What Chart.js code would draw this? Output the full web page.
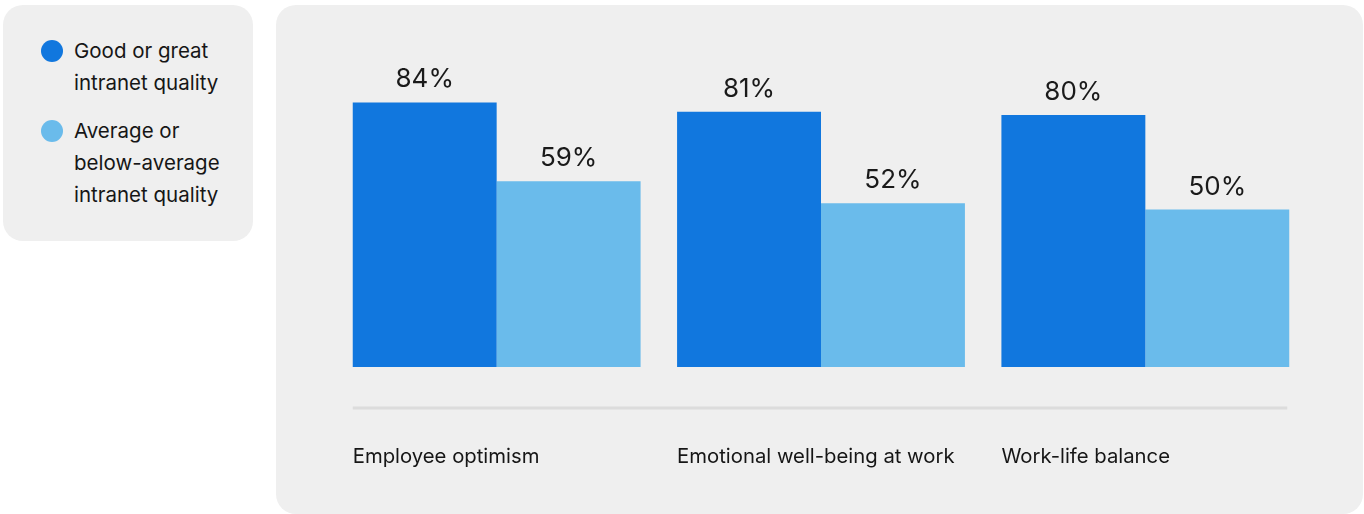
<!DOCTYPE html>
<html>
<head>
<meta charset="utf-8">
<script src="https://cdn.jsdelivr.net/npm/chart.js@4"></script>
<style>
  body { margin: 0; background: #fff; font-family: Inter, "Noto Sans", sans-serif; }
  .legend {
    position: absolute; left: 3px; top: 5px; width: 250px; height: 236px;
    background: #efefef; border-radius: 20px; box-sizing: border-box;
    padding: 30px 0 0 0;
  }
  .item { position: relative; padding-left: 71px; font-size: 20.5px; line-height: 32px; color: #161616; margin-bottom: 16px; }
  .dot { position: absolute; left: 38px; top: 5px; width: 22px; height: 22px; border-radius: 50%; }
  .panel {
    position: absolute; left: 276px; top: 5px; width: 1087px; height: 509px;
    background: #efefef; border-radius: 20px; overflow: hidden;
  }
</style>
</head>
<body>
<div class="legend" id="legend"></div>
<div class="panel"><canvas class="canvas" width="1087" height="509"></canvas></div>
<script>
var categories = ['Employee optimism', 'Emotional well-being at work', 'Work-life balance']
var goodQuality = [84, 81, 80]
var averageQuality = [59, 52, 50]
var seriesNames = [['Good or great', 'intranet quality'], ['Average or', 'below-average', 'intranet quality']]
var seriesColors = ['#1177de', '#6abbeb']

// html legend
var legend = document.getElementById('legend')
seriesNames.forEach((lines, i) => {
    var div = document.createElement('div')
    div.className = 'item'
    div.innerHTML = '<span class="dot" style="background:' + seriesColors[i] + '"></span>' + lines.join('<br>')
    legend.appendChild(div)
})

var extras = {
    id: 'extras',
    afterDatasetsDraw(chart) {
        var ctx = chart.ctx
        var metaA = chart.getDatasetMeta(0)
        var metaB = chart.getDatasetMeta(1)
        ctx.save()
        // value labels
        ctx.font = '26px Inter'
        ctx.fillStyle = '#1a1a1a'
        ctx.textAlign = 'center'
        ctx.textBaseline = 'alphabetic'
        chart.data.datasets.forEach((ds, i) => {
            chart.getDatasetMeta(i).data.forEach((bar, j) => {
                ctx.fillText(ds.data[j] + '%', bar.x, bar.y - 15)
            })
        })
        // separator line
        var first = metaA.data[0]
        var last = metaB.data[metaB.data.length - 1]
        var lineY = chart.chartArea.bottom + 41
        ctx.strokeStyle = '#dcdcdc'
        ctx.lineWidth = 3
        ctx.beginPath()
        ctx.moveTo(first.x - first.width / 2, lineY)
        ctx.lineTo(last.x + last.width / 2 - 2, lineY)
        ctx.stroke()
        // category labels
        ctx.font = '20.3px Inter'
        ctx.fillStyle = '#161616'
        ctx.textAlign = 'left'
        metaA.data.forEach((bar, j) => {
            ctx.fillText(chart.data.labels[j], bar.x - bar.width / 2, chart.chartArea.bottom + 96)
        })
        ctx.restore()
    }
}

var ctx = document.querySelector('.canvas').getContext('2d')
var myChart = new Chart(ctx, {
    type: 'bar',
    data: {
        labels: categories,
        datasets: [{
            label: seriesNames[0].join(' '),
            data: goodQuality,
            backgroundColor: seriesColors[0],
            categoryPercentage: 0.8875,
            barPercentage: 1
        }, {
            label: seriesNames[1].join(' '),
            data: averageQuality,
            backgroundColor: seriesColors[1],
            categoryPercentage: 0.8875,
            barPercentage: 1
        }]
    },
    options: {
        responsive: false,
        animation: false,
        layout: { padding: { left: 58.5, right: 55.5, top: 47, bottom: 147 } },
        scales: {
            x: { display: false },
            y: { display: false, min: 0, max: 100 }
        },
        plugins: {
            legend: { display: false },
            tooltip: { enabled: false }
        }
    },
    plugins: [extras]
})
</script>
</body>
</html>
